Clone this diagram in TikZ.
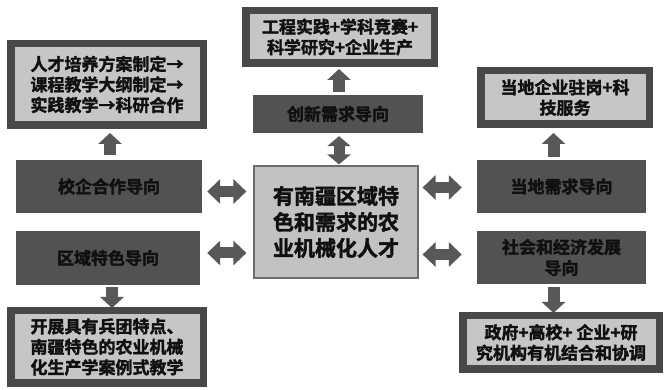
\documentclass[tikz,border=0pt]{standalone}
\usepackage{fontspec}
\setmainfont{Noto Sans CJK SC}[BoldFont={Noto Sans CJK SC Bold}, BoldFeatures={FakeBold=2}]
\usetikzlibrary{arrows.meta}
\definecolor{darkbox}{HTML}{525252}
\definecolor{rimc}{HTML}{484848}
\definecolor{lightc}{HTML}{C6C6C6}
\definecolor{centerc}{HTML}{C2C2C2}
\definecolor{arrc}{HTML}{585858}
\definecolor{txt}{HTML}{101010}
\tikzset{
  guide/.style={fill=darkbox, draw=none, text=txt, font=\bfseries\fontsize{17}{21}\selectfont, align=center, inner sep=0pt},
  outbox/.style={fill=lightc, draw=rimc, line width=7.5pt, text=txt, font=\bfseries\fontsize{17}{20.5}\selectfont, align=center, inner sep=0pt},
  corebox/.style={fill=centerc, draw=gray!85!black, line width=1.2pt, text=txt, font=\bfseries\fontsize{21}{26}\selectfont, align=center, inner sep=0pt},
  uparr/.style={draw=arrc, line width=12pt, -{Triangle[width=23pt 0 0, length=11pt 0 0]}},
  dblarr/.style={draw=arrc, line width=11pt, {Triangle[width=24pt 0 0, length=13pt 0 0]}-{Triangle[width=24pt 0 0, length=13pt 0 0]}},
  vdblarr/.style={draw=arrc, line width=11pt, {Triangle[width=23pt 0 0, length=10pt 0 0]}-{Triangle[width=23pt 0 0, length=10pt 0 0]}}
}
\begin{document}
\begin{tikzpicture}[x=1pt,y=-1pt]
\useasboundingbox[fill=white] (0,0) rectangle (665,390);
% output boxes
\node[outbox, minimum width=192.5pt, minimum height=81.5pt] (o1) at (107,84.5) {人才培养方案制定→\\课程教学大纲制定→\\实践教学→科研合作};
\node[outbox, minimum width=192.5pt, minimum height=72.5pt] (o2) at (107,347) {开展具有兵团特点、\\南疆特色的农业机械\\化生产学案例式教学};
\node[outbox, minimum width=188.5pt, minimum height=52.5pt] (o3) at (340,37) {工程实践+学科竞赛+\\科学研究+企业生产};
\node[outbox, minimum width=168.5pt, minimum height=53.5pt] (o4) at (565,97.5) {当地企业驻岗+科\\技服务};
\node[outbox, minimum width=196.5pt, minimum height=53.5pt] (o5) at (561,342.5) {政府+高校+ 企业+研\\究机构有机结合和协调};
% guide boxes
\node[guide, minimum width=186pt, minimum height=53pt] (xq) at (109,186.5) {校企合作导向};
\node[guide, minimum width=184pt, minimum height=54pt] (qy) at (108,258) {区域特色导向};
\node[guide, minimum width=170pt, minimum height=38pt] (cx) at (338,114) {创新需求导向};
\node[guide, minimum width=169pt, minimum height=53pt] (dd) at (561.5,186.5) {当地需求导向};
\node[guide, minimum width=169pt, minimum height=53pt] (sh) at (561.5,257.5) {社会和经济发展\\导向};
% center
\node[corebox, minimum width=164pt, minimum height=112pt] (c) at (336,222) {有南疆区域特\\色和需求的农\\业机械化人才};
% arrows
\draw[uparr] ([xshift=1pt,yshift=5pt]xq.north) -- ([xshift=1pt,yshift=-4pt]xq.north |- o1.south);
\draw[uparr] ([xshift=4pt,yshift=-2pt]qy.south) -- ([xshift=4pt,yshift=-1pt]qy.south |- o2.north);
\draw[uparr] ([xshift=1pt,yshift=3pt]cx.north) -- ([xshift=1pt,yshift=-2pt]cx.north |- o3.south);
\draw[uparr] ([xshift=-8pt,yshift=3pt]dd.north) -- ([xshift=-8pt,yshift=-5pt]dd.north |- o4.south);
\draw[uparr] ([xshift=-8pt,yshift=-3pt]sh.south) -- ([xshift=-8pt,yshift=-1pt]sh.south |- o5.north);
\draw[vdblarr] ([xshift=1pt,yshift=-3pt]cx.south) -- ([xshift=1pt,yshift=1pt]cx.south |- c.north);
\draw[dblarr] ([xshift=5pt,yshift=-5pt]xq.east) -- ([xshift=-7pt,yshift=-5pt]xq.east -| c.west);
\draw[dblarr] ([xshift=7pt,yshift=5pt]qy.east) -- ([xshift=-7pt,yshift=5pt]qy.east -| c.west);
\draw[dblarr] ([xshift=4pt,yshift=-1pt]c.east |- dd.west) -- ([xshift=-15pt,yshift=-1pt]dd.west);
\draw[dblarr] ([xshift=4pt,yshift=3pt]c.east |- sh.west) -- ([xshift=-15pt,yshift=3pt]sh.west);
\end{tikzpicture}
\end{document}
